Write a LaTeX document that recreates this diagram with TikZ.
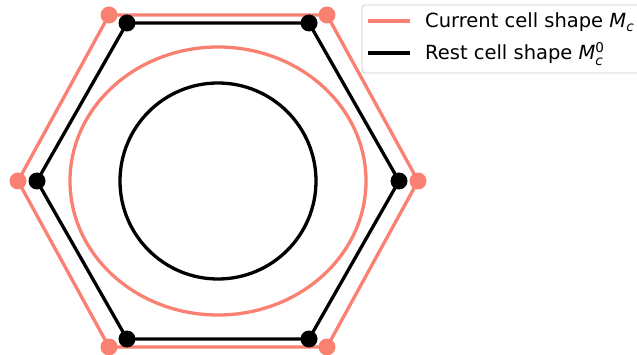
\documentclass[tikz,border=0pt]{standalone}
\usepackage{fontspec}
\setmainfont{DejaVu Sans}
\definecolor{salmon}{HTML}{FA8072}
\begin{document}
\begin{tikzpicture}[x=1pt,y=-1pt,
  cur/.style={draw=salmon,line width=3.3pt,line join=round},
  rest/.style={draw=black,line width=3.3pt,line join=round},
  cdot/.style={circle,fill=salmon,inner sep=0pt,minimum size=17pt},
  rdot/.style={circle,fill=black,inner sep=0pt,minimum size=17pt},
  lbl/.style={anchor=base west,inner sep=0pt,font=\fontsize{19.5}{23}\selectfont}]
\useasboundingbox (0,0) rectangle (637,355);
\coordinate (s1) at (18,181); \coordinate (s2) at (109,15); \coordinate (s3) at (327,15);
\coordinate (s4) at (418,181); \coordinate (s5) at (327,347); \coordinate (s6) at (109,347);
\coordinate (b1) at (37,181); \coordinate (b2) at (127,23); \coordinate (b3) at (309,23);
\coordinate (b4) at (399,181); \coordinate (b5) at (309,339); \coordinate (b6) at (127,339);
\draw[cur] (s1) -- (s2) -- (s3) -- (s4) -- (s5) -- (s6) -- cycle;
\draw[rest] (b1) -- (b2) -- (b3) -- (b4) -- (b5) -- (b6) -- cycle;
\draw[cur] (218,181) ellipse [x radius=148, y radius=134];
\draw[rest] (218,181) circle [radius=98];
\foreach \i in {1,...,6} {\node[cdot] (sd\i) at (s\i) {};}
\foreach \i in {1,...,6} {\node[rdot] (bd\i) at (b\i) {};}
% legend
\draw[draw=black!20,fill=white,fill opacity=0.8,rounded corners=3pt,line width=0.8pt] (362,5) rectangle (660,73);
\coordinate (l1a) at (368,21); \coordinate (l1b) at (410,21);
\coordinate (l2a) at (368,53); \coordinate (l2b) at (410,53);
\draw[cur] (l1a) -- (l1b);
\draw[rest] (l2a) -- (l2b);
\node[lbl] (t1) at (425,28) {Current cell shape \textit{M}$_{\mbox{\fontsize{13.5}{15}\selectfont\itshape c}}$};
\node[lbl] (t2) at (425,60) {Rest cell shape \textit{M}$_{\mbox{\fontsize{13.5}{15}\selectfont\itshape c}}^{\mbox{\fontsize{13.5}{15}\selectfont 0}}$};
\end{tikzpicture}
\end{document}
